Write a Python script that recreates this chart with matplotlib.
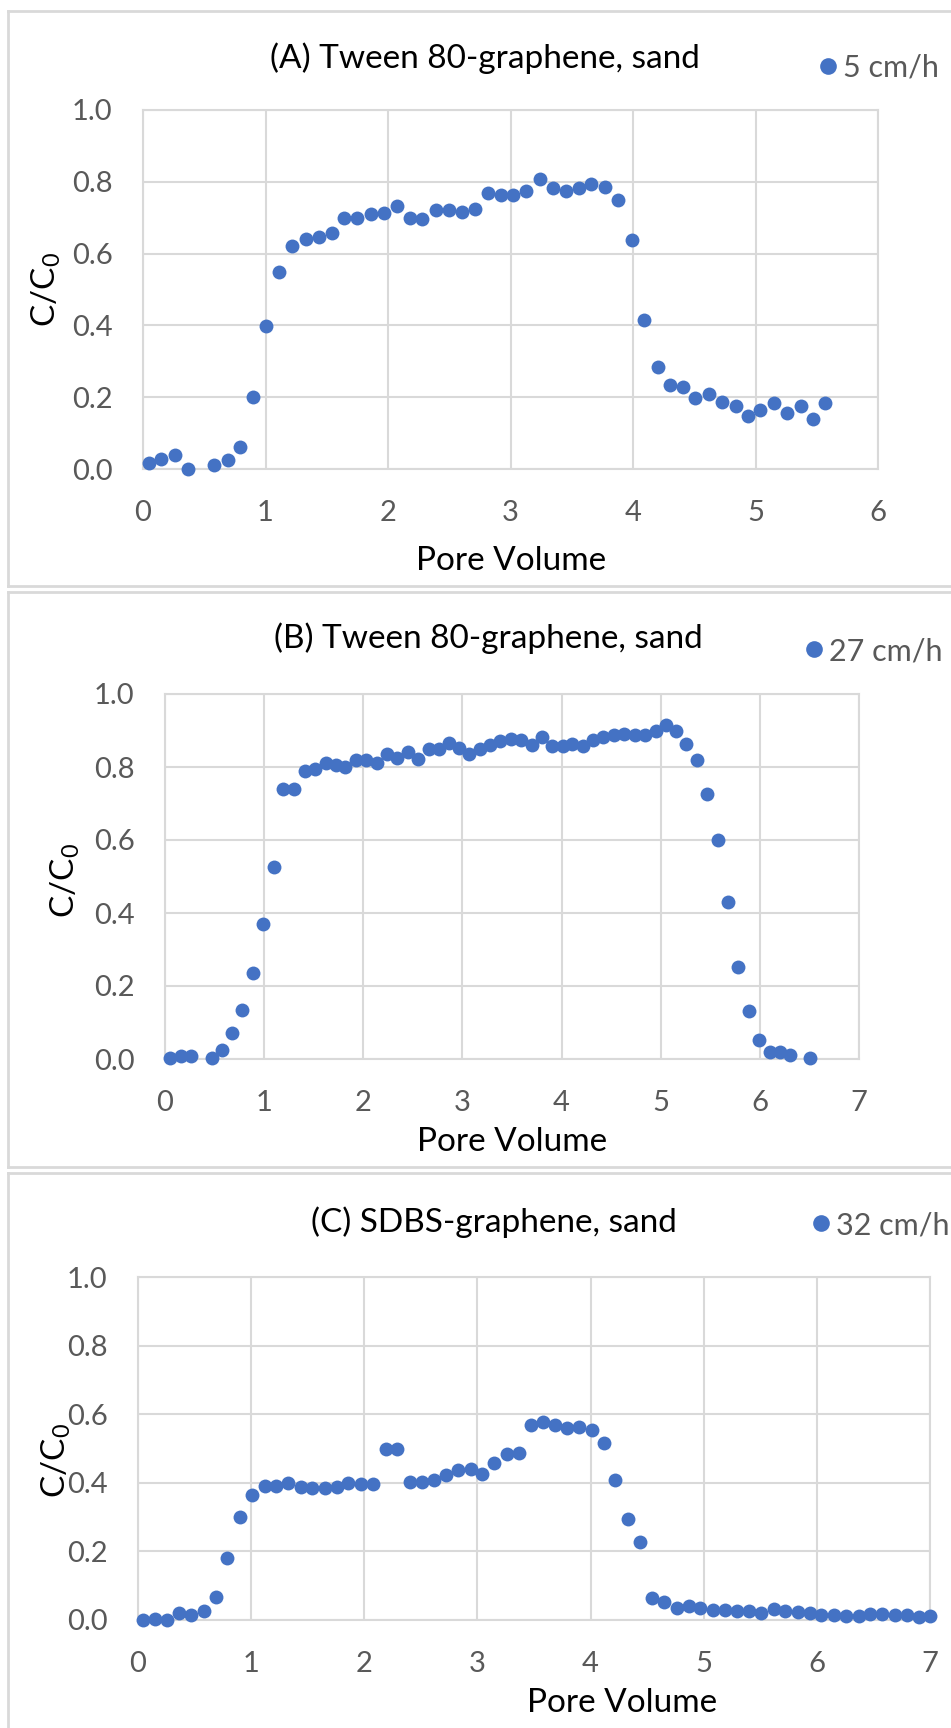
import matplotlib
matplotlib.use('Agg')
import matplotlib.pyplot as plt
from matplotlib.lines import Line2D

plt.rcParams['font.family'] = ['Lato', 'DejaVu Sans']

# (A) Tween 80-graphene, sand, 5 cm/h
pvA = [0.045, 0.15, 0.26, 0.37, 0.58, 0.69, 0.79, 0.90, 1.00, 1.11, 1.22, 1.33, 1.44, 1.54,
       1.64, 1.75, 1.86, 1.97, 2.07, 2.18, 2.28, 2.39, 2.50, 2.60, 2.71, 2.82, 2.92, 3.02,
       3.13, 3.24, 3.35, 3.45, 3.56, 3.66, 3.77, 3.88, 3.99, 4.09, 4.20, 4.30, 4.41, 4.51,
       4.62, 4.73, 4.84, 4.94, 5.04, 5.15, 5.26, 5.37, 5.47, 5.57]
ccA = [0.016, 0.028, 0.039, 0.0, 0.01, 0.026, 0.062, 0.20, 0.397, 0.549, 0.62, 0.641, 0.647, 0.657,
       0.70, 0.70, 0.711, 0.712, 0.732, 0.70, 0.696, 0.722, 0.722, 0.715, 0.725, 0.769, 0.764, 0.764,
       0.773, 0.808, 0.783, 0.773, 0.783, 0.793, 0.786, 0.75, 0.637, 0.415, 0.283, 0.235, 0.229, 0.197,
       0.21, 0.186, 0.175, 0.148, 0.165, 0.184, 0.157, 0.176, 0.139, 0.184]

# (B) Tween 80-graphene, sand, 27 cm/h
pvB = [0.055, 0.16, 0.26, 0.47, 0.575, 0.68, 0.78, 0.89, 0.985, 1.095, 1.19, 1.30, 1.41, 1.51,
       1.62, 1.72, 1.82, 1.93, 2.03, 2.14, 2.24, 2.34, 2.45, 2.55, 2.66, 2.76, 2.86, 2.97,
       3.07, 3.18, 3.28, 3.38, 3.49, 3.59, 3.70, 3.80, 3.90, 4.01, 4.11, 4.22, 4.32, 4.42,
       4.53, 4.63, 4.74, 4.84, 4.95, 5.05, 5.15, 5.26, 5.37, 5.47, 5.58, 5.68, 5.78, 5.89,
       5.99, 6.10, 6.20, 6.30, 6.51]
ccB = [0.004, 0.007, 0.007, 0.004, 0.026, 0.072, 0.133, 0.236, 0.37, 0.526, 0.74, 0.74, 0.79, 0.795,
       0.81, 0.805, 0.799, 0.82, 0.82, 0.81, 0.835, 0.826, 0.842, 0.822, 0.848, 0.848, 0.866, 0.853,
       0.836, 0.85, 0.859, 0.871, 0.876, 0.875, 0.859, 0.881, 0.857, 0.858, 0.864, 0.857, 0.875, 0.881,
       0.887, 0.891, 0.889, 0.887, 0.898, 0.914, 0.90, 0.863, 0.82, 0.727, 0.60, 0.43, 0.252, 0.132,
       0.052, 0.018, 0.018, 0.011, 0.004]

# (C) SDBS-graphene, sand, 32 cm/h
pvC = [0.04, 0.15, 0.26, 0.36, 0.47, 0.58, 0.69, 0.79, 0.90, 1.01, 1.12, 1.22, 1.33, 1.44,
       1.54, 1.65, 1.76, 1.86, 1.97, 2.08, 2.19, 2.29, 2.40, 2.51, 2.62, 2.72, 2.83, 2.94,
       3.04, 3.15, 3.26, 3.37, 3.47, 3.58, 3.69, 3.79, 3.90, 4.01, 4.12, 4.22, 4.33, 4.44,
       4.54, 4.65, 4.76, 4.87, 4.97, 5.08, 5.19, 5.29, 5.40, 5.51, 5.62, 5.72, 5.83, 5.94,
       6.04, 6.15, 6.26, 6.37, 6.47, 6.58, 6.69, 6.80, 6.90, 7.0]
ccC = [0.0, 0.003, 0.0, 0.021, 0.016, 0.026, 0.067, 0.181, 0.30, 0.364, 0.39, 0.39, 0.398, 0.387,
       0.384, 0.384, 0.387, 0.398, 0.396, 0.396, 0.498, 0.498, 0.401, 0.401, 0.408, 0.424, 0.438, 0.44,
       0.427, 0.458, 0.485, 0.487, 0.569, 0.577, 0.568, 0.559, 0.563, 0.553, 0.515, 0.408, 0.295, 0.228,
       0.063, 0.053, 0.035, 0.04, 0.035, 0.029, 0.029, 0.026, 0.026, 0.019, 0.032, 0.026, 0.024, 0.019,
       0.014, 0.014, 0.011, 0.011, 0.017, 0.017, 0.016, 0.014, 0.008, 0.011]

titles = ['(A) Tween 80-graphene, sand', '(B) Tween 80-graphene, sand', '(C) SDBS-graphene, sand']
rates = ['5 cm/h', '27 cm/h', '32 cm/h']
xmax = [6, 7, 7]

blue = '#4472C4'
grey = '#D9D9D9'
tickcol = '#595959'
W, H = 951, 1728

fig = plt.figure(figsize=(W / 100, H / 100), dpi=100)

# pixel layout: axes box (left, right, top, bottom), title xy, legend xy, xlabel xy, ylabel xy
boxes = [(143, 878, 110, 469), (165, 859, 694, 1059), (138, 930, 1277, 1620)]
title_xy = [(485, 58), (488, 638), (494, 1222)]
leg_xy = [(800, 68), (786, 651), (793, 1225)]
xlab_xy = [(511, 561), (512, 1142), (622, 1703)]
ylab_xy = [(46, 290), (65, 881), (56, 1461)]

def fx(px):
    return px / W

def fy(py):
    return 1 - py / H

# panel frames
for top, bot in [(11, 586), (592, 1167), (1173, None)]:
    fig.add_artist(Line2D([fx(8), 1], [fy(top), fy(top)], color=grey, lw=2))
    fig.add_artist(Line2D([fx(8), fx(8)], [fy(top), fy(bot if bot else H)], color=grey, lw=2))
    if bot:
        fig.add_artist(Line2D([fx(8), 1], [fy(bot), fy(bot)], color=grey, lw=2))

datasets = [(pvA, ccA), (pvB, ccB), (pvC, ccC)]
for i, (pv, cc) in enumerate(datasets):
    l, r, t, b = boxes[i]
    ax = fig.add_axes([fx(l), fy(b), (r - l) / W, (b - t) / H])
    ax.scatter(pv, cc, s=100, color=blue, zorder=3, clip_on=False, linewidths=0)
    ax.set_xlim(0, xmax[i])
    ax.set_ylim(0, 1.0)
    ax.set_xticks(range(0, xmax[i] + 1))
    ax.set_yticks([0, 0.2, 0.4, 0.6, 0.8, 1.0])
    ax.set_yticklabels(['%.1f' % v for v in [0, 0.2, 0.4, 0.6, 0.8, 1.0]])
    ax.grid(True, color=grey, lw=1.5)
    ax.set_axisbelow(True)
    for sp in ax.spines.values():
        sp.set_color(grey)
        sp.set_linewidth(1.5)
    ax.tick_params(length=0, labelsize=21, labelcolor=tickcol, pad=22)

    fig.text(fx(title_xy[i][0]), fy(title_xy[i][1]), titles[i], ha='center', va='center',
             fontsize=24, color='black')
    fig.text(fx(xlab_xy[i][0]), fy(xlab_xy[i][1]), 'Pore Volume', ha='center', va='center',
             fontsize=24, color='black')
    fig.text(fx(ylab_xy[i][0]), fy(ylab_xy[i][1]), 'C/C$_\\mathregular{0}$', ha='center', va='center',
             fontsize=24, color='black', rotation=90)
    handle = Line2D([], [], marker='o', ls='', color=blue, markersize=12, markeredgewidth=0)
    ax.legend([handle], [rates[i]], loc='center left',
              bbox_to_anchor=(fx(leg_xy[i][0]), fy(leg_xy[i][1])),
              bbox_transform=fig.transFigure, frameon=False, handletextpad=0.1,
              handlelength=0.8, borderpad=0, prop={'size': 22}, labelcolor=tickcol)

fig.savefig('out.png', dpi=100)
